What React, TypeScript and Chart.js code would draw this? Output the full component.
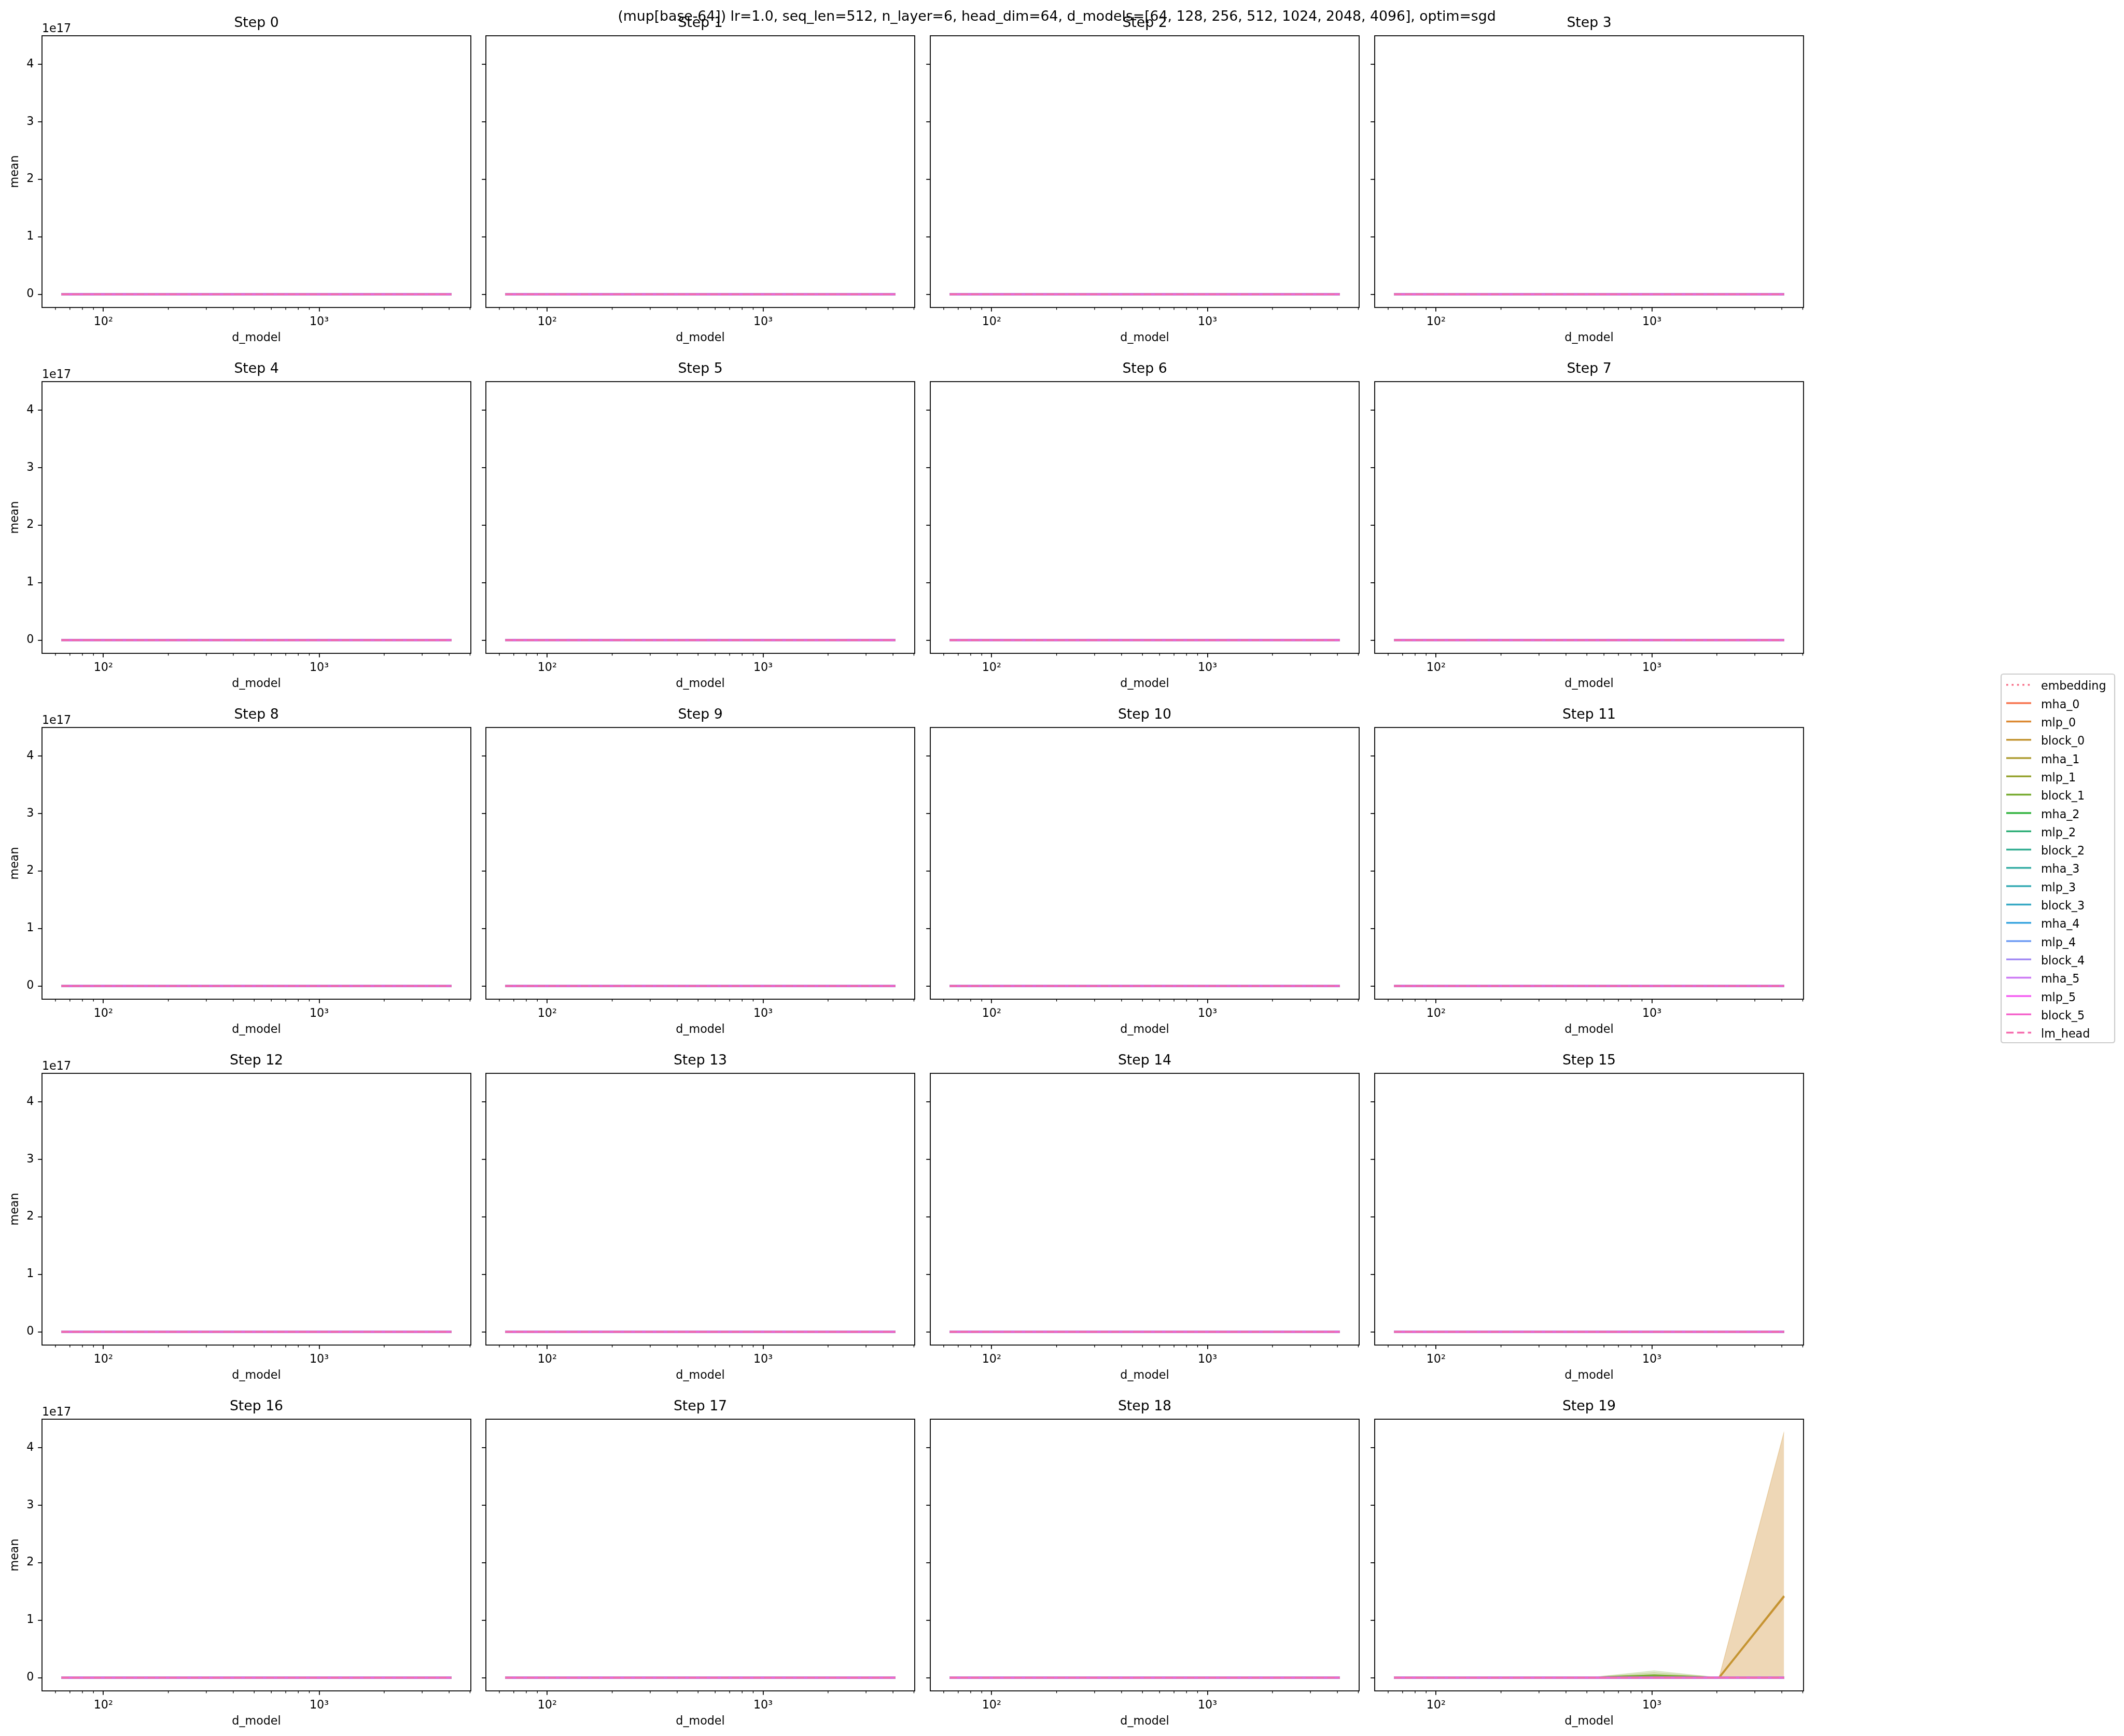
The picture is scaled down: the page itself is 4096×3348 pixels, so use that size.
import React, { useEffect, useRef } from 'react';
import { Chart, registerables } from 'chart.js';

Chart.register(...registerables);

const FONT = "'DejaVu Sans', 'Liberation Sans', sans-serif";
Chart.defaults.font.family = FONT;
Chart.defaults.color = '#000';

// ---------------- data ----------------
const FIGURE_TITLE =
  '(mup[base-64]) lr=1.0, seq_len=512, n_layer=6, head_dim=64, d_models=[64, 128, 256, 512, 1024, 2048, 4096], optim=sgd';
const STEP_TITLES = [
  'Step 0', 'Step 1', 'Step 2', 'Step 3', 'Step 4', 'Step 5', 'Step 6', 'Step 7', 'Step 8', 'Step 9',
  'Step 10', 'Step 11', 'Step 12', 'Step 13', 'Step 14', 'Step 15', 'Step 16', 'Step 17', 'Step 18', 'Step 19',
];
const D_MODELS = [64, 128, 256, 512, 1024, 2048, 4096];
const LAYERS = [
  'embedding', 'mha_0', 'mlp_0', 'block_0', 'mha_1', 'mlp_1', 'block_1', 'mha_2', 'mlp_2', 'block_2',
  'mha_3', 'mlp_3', 'block_3', 'mha_4', 'mlp_4', 'block_4', 'mha_5', 'mlp_5', 'block_5', 'lm_head',
];
const X_LABEL = 'd_model';
const Y_LABEL = 'mean';
const Y_OFFSET_LABEL = '1e17';
const X_MAJOR_TICKS = [100, 1000];
const X_MAJOR_LABELS = ['10\u00b2', '10\u00b3'];
const X_MINOR_TICKS = [60, 70, 80, 90, 200, 300, 400, 500, 600, 700, 800, 900, 2000, 3000, 4000, 5000];
const Y_TICKS = [0, 1e17, 2e17, 3e17, 4e17];
const Y_TICK_LABELS = ['0', '1', '2', '3', '4'];

// every layer, steps 0-18 (and most layers at step 19): reads 0 on the 1e17 axis
const FLAT_MEAN = [0, 0, 0, 0, 0, 0, 0];

// step 19 exceptions (mean + error band)
const STEP19_MLP_0_MEAN = [0, 0, 0, 0, 0, 0, 1.41e17];
const STEP19_MLP_0_LOW = [0, 0, 0, 0, 0, 0, -0.016e17];
const STEP19_MLP_0_HIGH = [0, 0, 0, 0, 0, 0, 4.26e17];
const STEP19_BLOCK_0_MEAN = [0, 0, 0, 0, 0, 0, 1.42e17];
const STEP19_BLOCK_0_LOW = [0, 0, 0, 0, 0, 0, 0];
const STEP19_BLOCK_0_HIGH = [0, 0, 0, 0, 0, 0, 4.28e17];
const STEP19_MLP_1_MEAN = [0, 0, 0, 0, 0.03e17, 0, 0];
const STEP19_MLP_1_LOW = [0, 0, 0, 0, 0, 0, 0];
const STEP19_MLP_1_HIGH = [0, 0, 0, 0, 0.09e17, 0, 0];
const STEP19_BLOCK_1_MEAN = [0, 0, 0, 0, 0.04e17, 0, 0];
const STEP19_BLOCK_1_LOW = [0, 0, 0, 0, 0, 0, 0];
const STEP19_BLOCK_1_HIGH = [0, 0, 0, 0, 0.12e17, 0, 0];

const STEP19_SERIES: Record<string, { mean: number[]; low: number[]; high: number[] }> = {
  mlp_0: { mean: STEP19_MLP_0_MEAN, low: STEP19_MLP_0_LOW, high: STEP19_MLP_0_HIGH },
  block_0: { mean: STEP19_BLOCK_0_MEAN, low: STEP19_BLOCK_0_LOW, high: STEP19_BLOCK_0_HIGH },
  mlp_1: { mean: STEP19_MLP_1_MEAN, low: STEP19_MLP_1_LOW, high: STEP19_MLP_1_HIGH },
  block_1: { mean: STEP19_BLOCK_1_MEAN, low: STEP19_BLOCK_1_LOW, high: STEP19_BLOCK_1_HIGH },
};

// ---------------- axis ranges (matplotlib-style 5% margins) ----------------
const allY = [FLAT_MEAN, ...Object.values(STEP19_SERIES).flatMap((s) => [s.mean, s.low, s.high])].flat();
const yLo = Math.min(...allY);
const yHi = Math.max(...allY);
const Y_MIN = yLo - 0.05 * (yHi - yLo);
const Y_MAX = yHi + 0.05 * (yHi - yLo);
const lx0 = Math.log10(D_MODELS[0]);
const lx1 = Math.log10(D_MODELS[D_MODELS.length - 1]);
const X_MIN = Math.pow(10, lx0 - 0.05 * (lx1 - lx0));
const X_MAX = Math.pow(10, lx1 + 0.05 * (lx1 - lx0));

// ---------------- husl palette (seaborn) ----------------
const HM = [
  [3.240969941904521, -1.537383177570093, -0.498610760293],
  [-0.96924363628087, 1.87596750150772, 0.041555057407175],
  [0.055630079696993, -0.20397695888897, 1.056971514242878],
];
const REF_U = 0.19783000664283;
const REF_V = 0.46831999493879;
const KAPPA = 903.2962962;
const EPS = 0.0088564516;
function maxChroma(L: number, H: number) {
  const hr = (H * Math.PI) / 180;
  const sinH = Math.sin(hr);
  const cosH = Math.cos(hr);
  const sub1 = Math.pow(L + 16, 3) / 1560896;
  const sub2 = sub1 > EPS ? sub1 : L / KAPPA;
  let res = Infinity;
  for (const [m1, m2, m3] of HM) {
    const top = (0.99915 * m1 + 1.05122 * m2 + 1.1446 * m3) * sub2;
    const rb = 0.8633 * m3 - 0.17266 * m2;
    const lb = 0.12949 * m3 - 0.38848 * m1;
    const bottom = (rb * sinH + lb * cosH) * sub2;
    for (const t of [0, 1]) {
      const C = (L * (top - 1.05122 * t)) / (bottom + 0.17266 * sinH * t);
      if (C > 0 && C < res) res = C;
    }
  }
  return res;
}
function huslToRgb(H: number, S: number, L: number) {
  const C = (maxChroma(L, H) / 100) * S;
  const hr = (H * Math.PI) / 180;
  const U = Math.cos(hr) * C;
  const V = Math.sin(hr) * C;
  const t = (L + 16) / 116;
  const Y = Math.pow(t, 3) > EPS ? Math.pow(t, 3) : (116 * t - 16) / KAPPA;
  const vu = U / (13 * L) + REF_U;
  const vv = V / (13 * L) + REF_V;
  const X = -(9 * Y * vu) / ((vu - 4) * vv - vu * vv);
  const Z = (9 * Y - 15 * vv * Y - vv * X) / (3 * vv);
  return HM.map((r) => {
    const c = r[0] * X + r[1] * Y + r[2] * Z;
    const v = c <= 0.0031308 ? 12.92 * c : 1.055 * Math.pow(c, 1 / 2.4) - 0.055;
    return Math.min(1, Math.max(0, v));
  });
}
function huslPalette(n: number) {
  const out: number[][] = [];
  for (let i = 0; i < n; i++) {
    const h = ((i / n + 0.01) % 1) * 359;
    out.push(huslToRgb(h, 0.9 * 99, 0.65 * 99));
  }
  return out;
}
const PALETTE = huslPalette(LAYERS.length);
const rgba = (c: number[], a = 1) =>
  `rgba(${Math.round(c[0] * 255)}, ${Math.round(c[1] * 255)}, ${Math.round(c[2] * 255)}, ${a})`;

// ---------------- layout (output px) ----------------
const AX_LEFT = [81, 937, 1794, 2651];
const AX_TOP = [69, 736, 1403, 2070, 2737];
const AX_W = 827;
const AX_H = 524;
const PAD_TOP = 50;
const PAD_BOTTOM = 80;
const PAD_RIGHT = 12;
const TICK_FS = 22.2;
const TITLE_FS = 26.7;
const LINE_W = 3.5;
const SPINE_W = 1.78;
const DOT = [3.6, 6.8];
const DASH = [14.0, 6.8];

const dashFor = (layer: string) => (layer === 'embedding' ? DOT : layer === 'lm_head' ? DASH : []);
const pts = (arr: number[]) => D_MODELS.map((x, i) => ({ x, y: arr[i] }));

const mplPlugin = {
  id: 'mplFrame',
  afterDraw(chart: any, _args: any, opts: any) {
    const { ctx, chartArea: a, scales } = chart;
    ctx.save();
    ctx.strokeStyle = '#000';
    ctx.lineWidth = 1.33;
    for (const v of X_MINOR_TICKS) {
      const x = scales.x.getPixelForValue(v);
      ctx.beginPath();
      ctx.moveTo(x, a.bottom);
      ctx.lineTo(x, a.bottom + 4.4);
      ctx.stroke();
    }
    ctx.lineWidth = SPINE_W;
    ctx.strokeRect(a.left, a.top, a.right - a.left, a.bottom - a.top);
    if (opts.showOffset) {
      ctx.fillStyle = '#000';
      ctx.font = `${TICK_FS}px ${FONT}`;
      ctx.textAlign = 'left';
      ctx.textBaseline = 'alphabetic';
      ctx.fillText(Y_OFFSET_LABEL, a.left, a.top - 6.7);
    }
    ctx.restore();
  },
};

function makeConfig(step: number, col: number, padLeft: number): any {
  const datasets: any[] = [];
  LAYERS.forEach((layer, k) => {
    const c = PALETTE[k];
    const special = step === 19 ? STEP19_SERIES[layer] : undefined;
    if (special) {
      datasets.push({
        label: layer + ' band',
        data: pts(special.high),
        borderColor: rgba(c, 0.2),
        backgroundColor: rgba(c, 0.2),
        borderWidth: 1.2,
        fill: '+1',
        pointRadius: 0,
        tension: 0,
        order: 5000 - k,
      });
      datasets.push({
        label: layer + ' band low',
        data: pts(special.low),
        borderColor: rgba(c, 0.2),
        borderWidth: 1.2,
        fill: false,
        pointRadius: 0,
        tension: 0,
        order: 5000 - k,
      });
    }
    datasets.push({
      label: layer,
      data: pts(special ? special.mean : FLAT_MEAN),
      borderColor: rgba(c, 1),
      backgroundColor: rgba(c, 1),
      borderWidth: LINE_W,
      borderDash: dashFor(layer),
      borderCapStyle: 'butt',
      fill: false,
      pointRadius: 0,
      tension: 0,
      order: 1000 - k,
    });
  });

  const titleLH = TITLE_FS * 1.2;
  const titlePadBottom = 7.7;
  const gridOpts = {
    display: true,
    drawOnChartArea: false,
    drawTicks: true,
    tickLength: 7.8,
    tickWidth: SPINE_W,
    tickColor: '#000',
    color: '#000',
    lineWidth: SPINE_W,
  };

  return {
    type: 'line',
    data: { datasets },
    options: {
      responsive: false,
      animation: false,
      devicePixelRatio: 1,
      events: [],
      layout: { padding: { top: PAD_TOP - titleLH - titlePadBottom, right: PAD_RIGHT, left: 0, bottom: 0 } },
      plugins: {
        legend: { display: false },
        tooltip: { enabled: false },
        title: {
          display: true,
          text: STEP_TITLES[step],
          fullSize: false,
          color: '#000',
          font: { family: FONT, size: TITLE_FS, weight: 'normal', lineHeight: 1.2 },
          padding: { top: 0, bottom: titlePadBottom },
        },
        mplFrame: { showOffset: col === 0 },
      },
      scales: {
        x: {
          type: 'logarithmic',
          position: 'bottom',
          min: X_MIN,
          max: X_MAX,
          bounds: 'data',
          afterBuildTicks: (s: any) => {
            s.ticks = X_MAJOR_TICKS.map((v) => ({ value: v }));
          },
          afterFit: (s: any) => {
            s.height = PAD_BOTTOM;
          },
          ticks: {
            autoSkip: false,
            maxRotation: 0,
            minRotation: 0,
            padding: 6.7,
            color: '#000',
            font: { family: FONT, size: TICK_FS },
            callback: (v: number) => {
              const i = X_MAJOR_TICKS.indexOf(v);
              return i >= 0 ? X_MAJOR_LABELS[i] : '';
            },
          },
          grid: gridOpts,
          border: { display: false },
          title: {
            display: true,
            text: X_LABEL,
            color: '#000',
            font: { family: FONT, size: TICK_FS },
            padding: { top: 0, bottom: 7.0 },
          },
        },
        y: {
          type: 'linear',
          position: 'left',
          min: Y_MIN,
          max: Y_MAX,
          bounds: 'data',
          afterBuildTicks: (s: any) => {
            s.ticks = Y_TICKS.map((v) => ({ value: v }));
          },
          afterFit: (s: any) => {
            s.width = padLeft;
          },
          ticks: {
            autoSkip: false,
            padding: 7.8,
            color: '#000',
            font: { family: FONT, size: TICK_FS },
            callback: (v: number) => {
              if (col !== 0) return '';
              const i = Y_TICKS.indexOf(v);
              return i >= 0 ? Y_TICK_LABELS[i] : '';
            },
          },
          grid: gridOpts,
          border: { display: false },
          title: {
            display: col === 0,
            text: Y_LABEL,
            color: '#000',
            font: { family: FONT, size: TICK_FS },
            padding: { top: 14.8, bottom: 0 },
          },
        },
      },
    },
    plugins: [mplPlugin],
  };
}

function Subplot({ step }: { step: number }) {
  const ref = useRef<HTMLCanvasElement | null>(null);
  const row = Math.floor(step / 4);
  const col = step % 4;
  const padLeft = col === 0 ? 80 : 20;
  const w = padLeft + AX_W + PAD_RIGHT;
  const h = PAD_TOP + AX_H + PAD_BOTTOM;
  const left = AX_LEFT[col] - padLeft;
  const top = AX_TOP[row] - PAD_TOP;
  useEffect(() => {
    const chart = new Chart(ref.current as HTMLCanvasElement, makeConfig(step, col, padLeft));
    return () => chart.destroy();
  }, [step]);
  return (
    <canvas
      ref={ref}
      width={w}
      height={h}
      style={{ position: 'absolute', left, top, width: w, height: h }}
    />
  );
}

// legend + suptitle (figure-level artists)
const LEG = { x0: 3859, y0: 1300, x1: 4078, y1: 2011, firstY: 1320.8, step: 35.3, hx0: 3869, hx1: 3917, tx: 3936 };

function FigureLayer() {
  const ref = useRef<HTMLCanvasElement | null>(null);
  useEffect(() => {
    const cv = ref.current as HTMLCanvasElement;
    const ctx = cv.getContext('2d') as CanvasRenderingContext2D;
    ctx.clearRect(0, 0, cv.width, cv.height);
    // suptitle
    ctx.fillStyle = '#000';
    ctx.font = `${TITLE_FS}px ${FONT}`;
    ctx.textAlign = 'center';
    ctx.textBaseline = 'alphabetic';
    ctx.fillText(FIGURE_TITLE, 2038, 40);
    // legend frame
    const r = 4.4;
    const { x0, y0, x1, y1 } = LEG;
    ctx.beginPath();
    ctx.moveTo(x0 + r, y0);
    ctx.lineTo(x1 - r, y0);
    ctx.arcTo(x1, y0, x1, y0 + r, r);
    ctx.lineTo(x1, y1 - r);
    ctx.arcTo(x1, y1, x1 - r, y1, r);
    ctx.lineTo(x0 + r, y1);
    ctx.arcTo(x0, y1, x0, y1 - r, r);
    ctx.lineTo(x0, y0 + r);
    ctx.arcTo(x0, y0, x0 + r, y0, r);
    ctx.closePath();
    ctx.fillStyle = 'rgba(255,255,255,0.8)';
    ctx.fill();
    ctx.strokeStyle = '#cccccc';
    ctx.lineWidth = 2.2;
    ctx.stroke();
    // entries
    LAYERS.forEach((layer, k) => {
      const y = LEG.firstY + k * LEG.step;
      ctx.save();
      ctx.strokeStyle = rgba(PALETTE[k], 1);
      ctx.lineWidth = LINE_W;
      ctx.lineCap = 'butt';
      ctx.setLineDash(dashFor(layer));
      ctx.beginPath();
      ctx.moveTo(LEG.hx0, y);
      ctx.lineTo(LEG.hx1, y);
      ctx.stroke();
      ctx.restore();
      ctx.fillStyle = '#000';
      ctx.font = `${TICK_FS}px ${FONT}`;
      ctx.textAlign = 'left';
      ctx.textBaseline = 'alphabetic';
      ctx.fillText(layer, LEG.tx, y + 9.6);
    });
  }, []);
  return (
    <canvas
      ref={ref}
      width={4096}
      height={3348}
      style={{ position: 'absolute', left: 0, top: 0, width: 4096, height: 3348 }}
    />
  );
}

export default function App() {
  return (
    <div
      style={{
        position: 'absolute',
        left: 0,
        top: 0,
        width: 4096,
        height: 3348,
        background: '#ffffff',
        overflow: 'hidden',
      }}
    >
      <FigureLayer />
      {STEP_TITLES.map((_, i) => (
        <Subplot key={i} step={i} />
      ))}
    </div>
  );
}
